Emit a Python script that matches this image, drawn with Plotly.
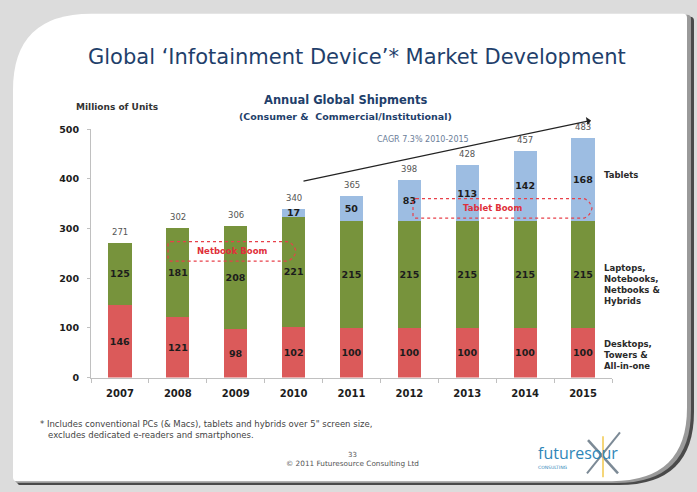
import plotly.graph_objects as go

# ---- data ----
years = ["2007", "2008", "2009", "2010", "2011", "2012", "2013", "2014", "2015"]
desktops = [146, 121, 98, 102, 100, 100, 100, 100, 100]
laptops = [125, 181, 208, 221, 215, 215, 215, 215, 215]
tablets = [0, 0, 0, 17, 50, 83, 113, 142, 168]
totals = [271, 302, 306, 340, 365, 398, 428, 457, 483]
y_ticks = [0, 100, 200, 300, 400, 500]

W, H = 697, 492


def px(x):
    return x / W


def py(y):
    return 1 - y / H


FONT = "DejaVu Sans"
RED = "#db5a5a"
GREEN = "#77933c"
BLUE = "#9dbde2"
DARK = "#1c1c1c"
NAVY = "#1f3f6b"
SEG = dict(family=FONT, size=9.5, color=DARK, weight="bold")

fig = go.Figure()

fig.add_trace(go.Bar(
    x=years, y=desktops, name="Desktops", marker=dict(color=RED, line=dict(width=0)),
    text=[str(v) for v in desktops], textposition="inside", insidetextanchor="middle",
    textfont=SEG, textangle=0,
))
fig.add_trace(go.Bar(
    x=years, y=laptops, name="Laptops", marker=dict(color=GREEN, line=dict(width=0)),
    text=[str(v) for v in laptops], textposition="inside", insidetextanchor="middle",
    textfont=SEG, textangle=0,
))
fig.add_trace(go.Bar(
    x=years, y=tablets, name="Tablets", marker=dict(color=BLUE, line=dict(width=0)),
    text=[str(v) if v else "" for v in tablets], textposition="inside", insidetextanchor="middle",
    textfont=SEG, textangle=0, constraintext="none",
))

# ---- slide frame ----
def card_path(x0, y0, x1, y1, r_tl, r_br, r_small=4):
    pts = []
    pts.append(f"M {px(x0)},{py(y0 + r_tl)}")
    pts.append(f"Q {px(x0)},{py(y0)} {px(x0 + r_tl)},{py(y0)}")
    pts.append(f"L {px(x1 - r_small)},{py(y0)}")
    pts.append(f"Q {px(x1)},{py(y0)} {px(x1)},{py(y0 + r_small)}")
    pts.append(f"L {px(x1)},{py(y1 - r_br)}")
    pts.append(f"Q {px(x1)},{py(y1)} {px(x1 - r_br)},{py(y1)}")
    pts.append(f"L {px(x0 + r_small)},{py(y1)}")
    pts.append(f"Q {px(x0)},{py(y1)} {px(x0)},{py(y1 - r_small)}")
    pts.append("Z")
    return " ".join(pts)


shapes = []
shapes.append(dict(type="path", xref="paper", yref="paper", layer="below",
                   path=card_path(17, 11, 694, 490, 78, 75),
                   fillcolor="#4a4a4a", line=dict(width=0)))
shapes.append(dict(type="path", xref="paper", yref="paper", layer="below",
                   path=card_path(15, 9, 691, 488, 78, 75),
                   fillcolor="#9a9a9a", line=dict(width=0)))
shapes.append(dict(type="path", xref="paper", yref="paper", layer="below",
                   path=card_path(13, 8, 687, 486, 78, 75),
                   fillcolor="#ffffff", line=dict(width=0)))


def boom_path(x0, x1, xt, y0, y1):
    ym = (y0 + y1) / 2
    return (f"M {px(x0 + 3)},{py(y0)} L {px(x1)},{py(y0)} "
            f"Q {px(xt - 2)},{py(y0 + 2)} {px(xt)},{py(ym)} "
            f"Q {px(xt - 2)},{py(y1 - 2)} {px(x1)},{py(y1)} "
            f"L {px(x0 + 3)},{py(y1)} Q {px(x0)},{py(y1)} {px(x0)},{py(y1 - 3)} "
            f"L {px(x0)},{py(y0 + 3)} Q {px(x0)},{py(y0)} {px(x0 + 3)},{py(y0)} Z")


shapes.append(dict(type="path", xref="paper", yref="paper",
                   path=boom_path(168, 287, 296, 241, 261),
                   line=dict(color="#e8404a", width=1.2, dash="dot")))
shapes.append(dict(type="path", xref="paper", yref="paper",
                   path=boom_path(413, 584, 592, 197, 217),
                   line=dict(color="#e8404a", width=1.2, dash="dot")))

# logo X
shapes.append(dict(type="line", xref="paper", yref="paper",
                   x0=px(588), y0=py(444), x1=px(618), y1=py(478),
                   line=dict(color="#7c8a96", width=2.5)))
shapes.append(dict(type="line", xref="paper", yref="paper",
                   x0=px(587), y0=py(478), x1=px(620), y1=py(436),
                   line=dict(color="#7c8a96", width=2)))
shapes.append(dict(type="line", xref="paper", yref="paper",
                   x0=px(603), y0=py(440), x1=px(603), y1=py(482),
                   line=dict(color="#f2c94c", width=1.5)))

annotations = []

# totals above the stacks (x given as category index)
for i, tot in enumerate(totals):
    annotations.append(dict(
        x=i, y=tot, xref="x", yref="y", text=str(tot), showarrow=False,
        yanchor="bottom", yshift=4,
        font=dict(family=FONT, size=8.5, color="#555555"),
    ))


def txt(x, y, s, size, color, bold=False, xanchor="center", align="center", family=FONT):
    annotations.append(dict(
        x=px(x), y=py(y), xref="paper", yref="paper", text=s, showarrow=False,
        xanchor=xanchor, yanchor="middle", align=align,
        font=dict(family=family, size=size, color=color, weight="bold" if bold else "normal"),
    ))


txt(357, 52, "Global ‘Infotainment Device’* Market Development", 21, NAVY)
txt(117, 103, "Millions of Units", 9, "#333333", bold=True)
txt(345, 96, "Annual Global Shipments", 11.5, NAVY, bold=True)
txt(345, 113, "(Consumer &amp;  Commercial/Institutional)", 9.5, NAVY, bold=True)
txt(423, 137, "CAGR 7.3% 2010-2015", 8, "#6a7d99")
txt(232, 251, "Netbook Boom", 8.5, "#e0303a", bold=True)
txt(492, 207, "Tablet Boom", 8.5, "#e0303a", bold=True)
txt(602, 173, "Tablets", 8.5, "#2a2a2a", bold=True, xanchor="left", align="left")
txt(602, 285, "Laptops,<br>Notebooks,<br>Netbooks &amp;<br>Hybrids", 8.5, "#2a2a2a",
    bold=True, xanchor="left", align="left")
txt(602, 357, "Desktops,<br>Towers &amp;<br>All-in-one", 8.5, "#2a2a2a",
    bold=True, xanchor="left", align="left")
txt(38, 433, "* Includes conventional PCs (&amp; Macs), tablets and hybrids over 5\" screen size,<br>"
    "   excludes dedicated e-readers and smartphones.", 8.5, "#444444",
    xanchor="left", align="left")
txt(352, 459, "33", 7, "#555555")
txt(352, 468, "© 2011 Futuresource Consulting Ltd", 7.3, "#555555")
txt(578, 457, "futuresour", 16, "#2f86b8", family="Open Sans")
txt(553, 472, "CONSULTING", 4.5, "#2f86b8")

# CAGR arrow
annotations.append(dict(
    x=px(591), y=py(117), ax=302 - 591, ay=178 - 117, xref="paper", yref="paper",
    axref="pixel", ayref="pixel", text="", showarrow=True, arrowhead=1,
    arrowsize=1.2, arrowwidth=1.2, arrowcolor="#222222",
))

fig.update_layout(
    width=W, height=H,
    margin=dict(l=0, r=0, t=0, b=0),
    paper_bgcolor="#dcdcdc",
    plot_bgcolor="rgba(0,0,0,0)",
    barmode="stack",
    bargap=0.6,
    showlegend=False,
    shapes=shapes,
    annotations=annotations,
    uniformtext=dict(minsize=9, mode="show"),
    xaxis=dict(
        domain=[px(91), px(612)], type="category", categoryorder="array",
        categoryarray=years, range=[-0.5, len(years) - 0.5],
        showline=True, linecolor="#c0c0c0", linewidth=1,
        ticks="outside", tickson="boundaries", ticklen=4, tickcolor="#c0c0c0",
        tickfont=dict(family=FONT, size=10, color=DARK, weight="bold"),
        ticklabelstandoff=6,
        showgrid=False, zeroline=False, fixedrange=True,
    ),
    yaxis=dict(
        domain=[py(380), py(126)], range=[0, 500], tickvals=y_ticks,
        showline=True, linecolor="#c0c0c0", linewidth=1,
        ticks="outside", ticklen=3, tickcolor="#c0c0c0",
        tickfont=dict(family=FONT, size=9.5, color=DARK, weight="bold"),
        ticklabelstandoff=6,
        showgrid=False, zeroline=False, fixedrange=True,
    ),
)

fig.write_html(
    "out.html",
    config={"displayModeBar": False},
    post_script="document.body.style.margin='0';document.body.style.background='#dcdcdc';",
)
